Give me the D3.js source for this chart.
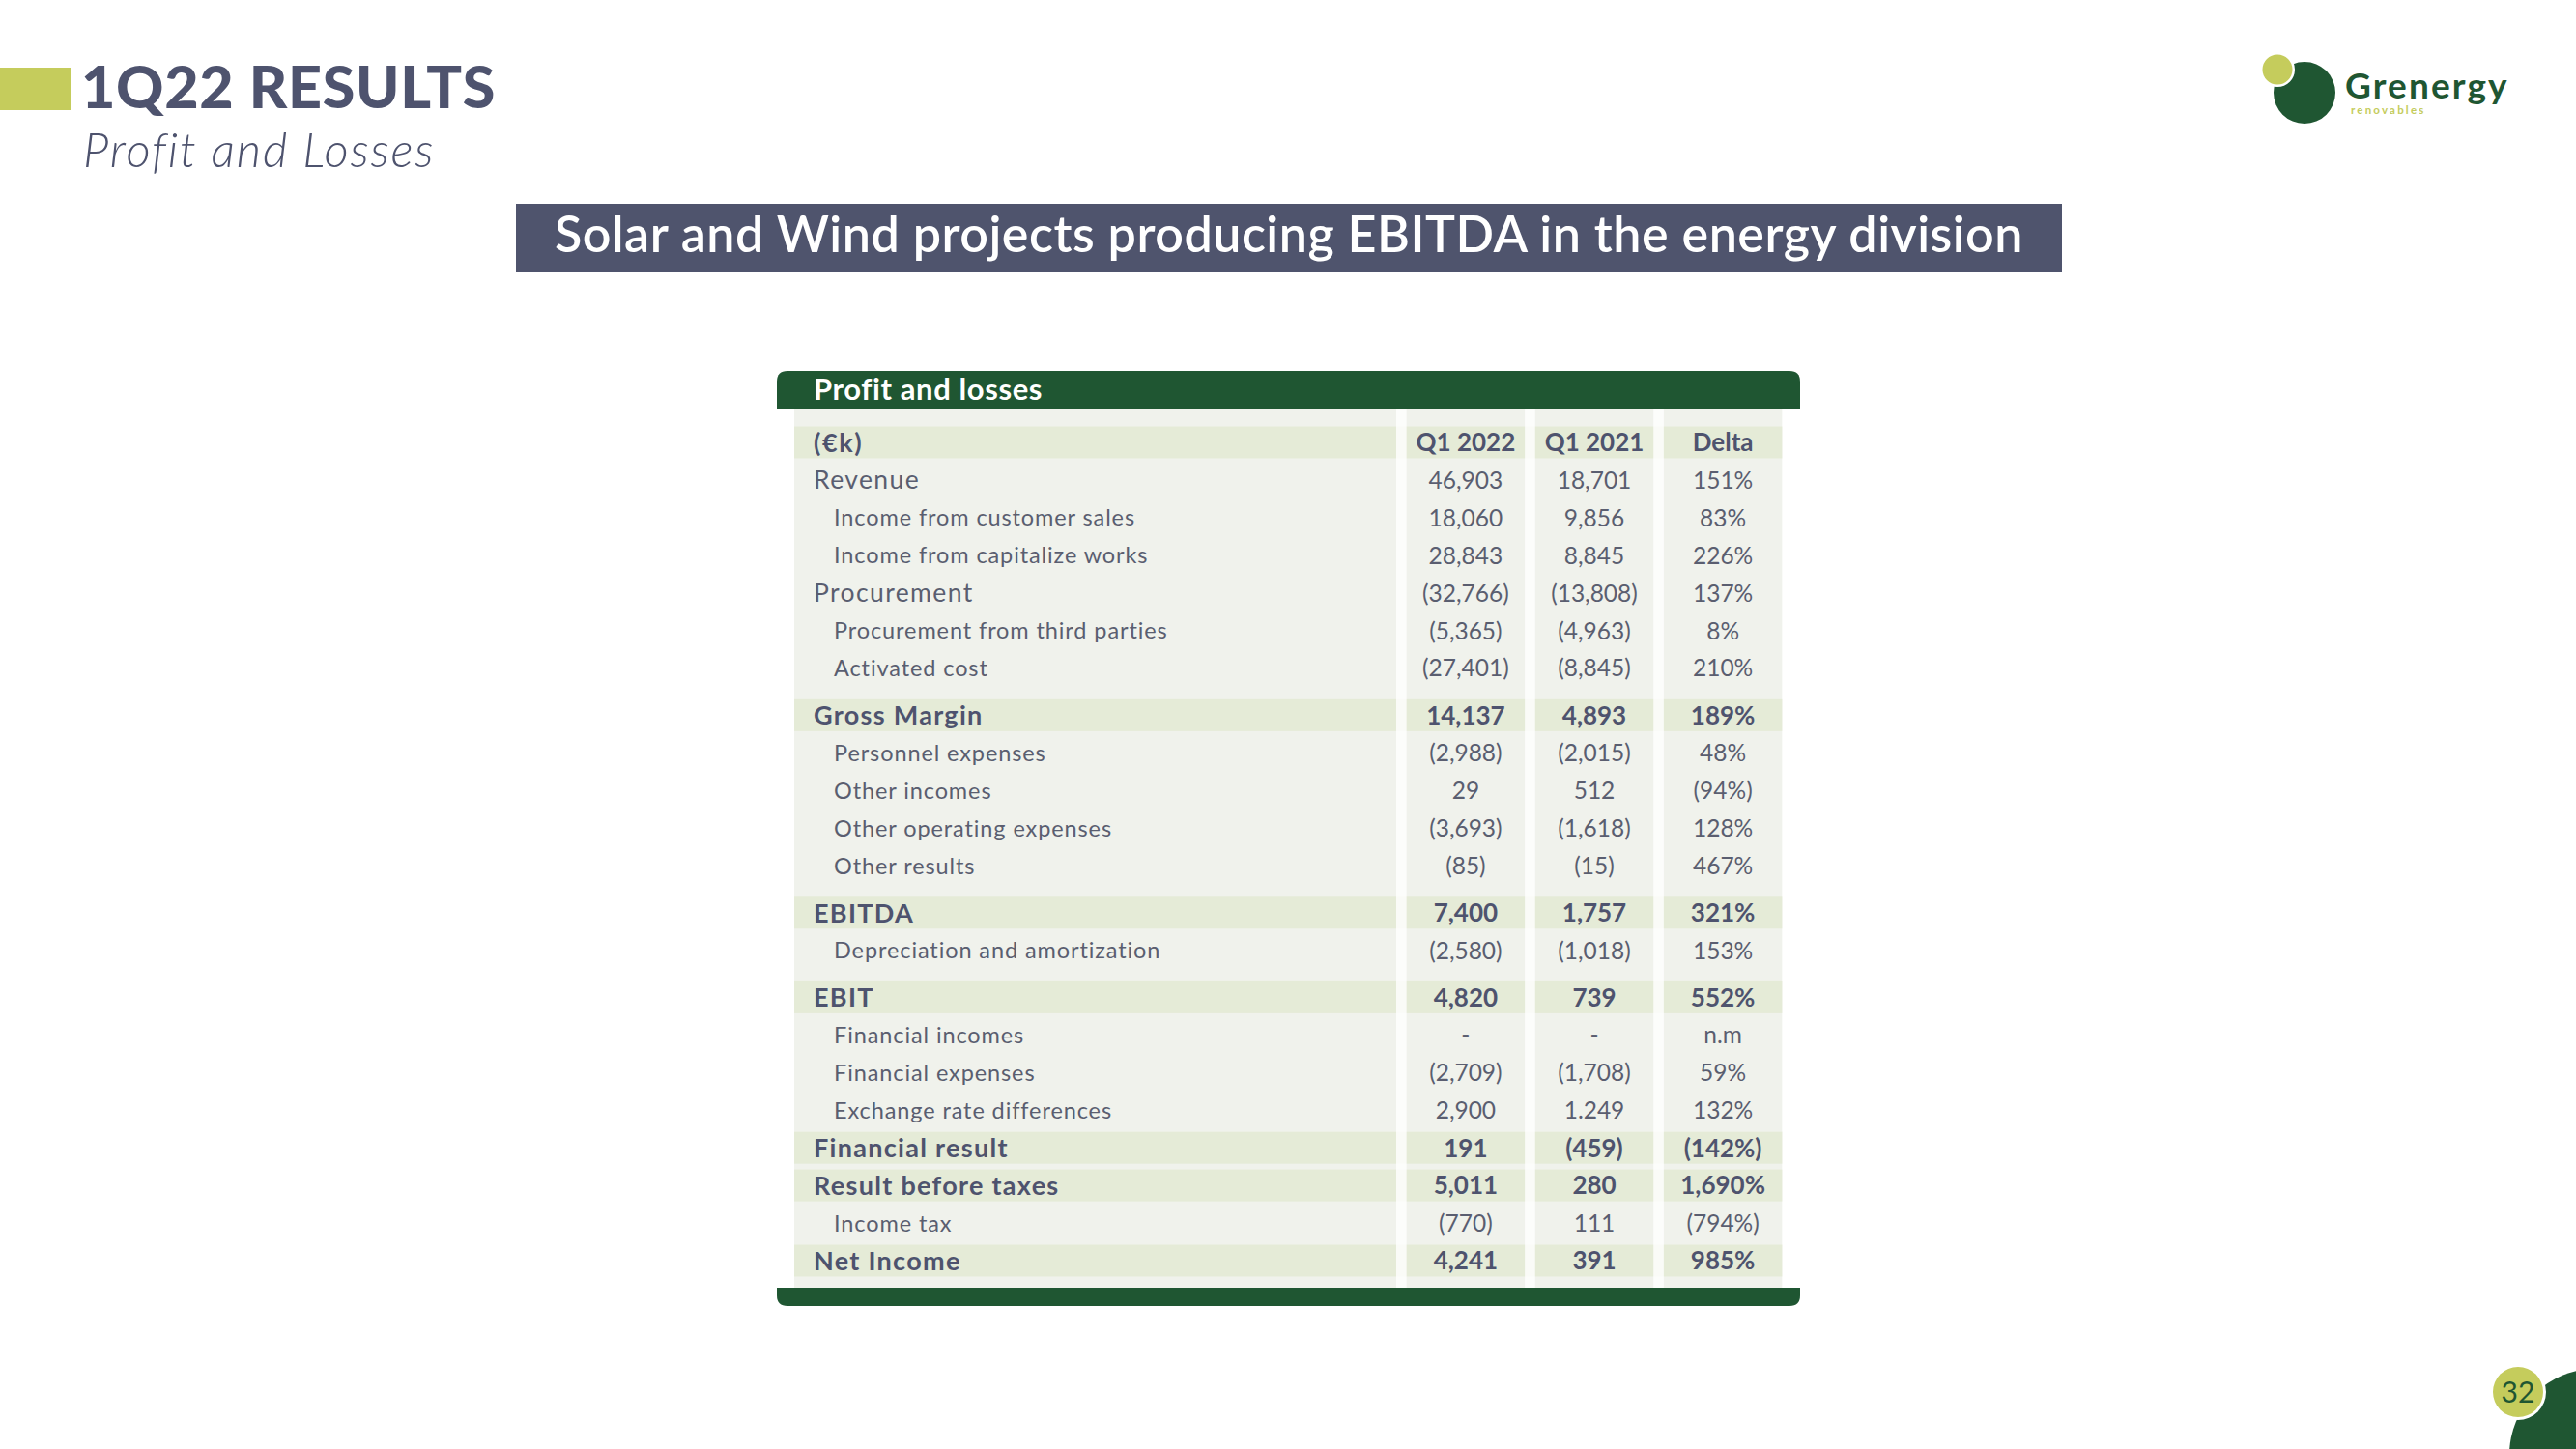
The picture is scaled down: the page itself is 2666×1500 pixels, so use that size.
<!DOCTYPE html>
<html>
<head>
<meta charset="utf-8">
<script src="https://cdn.jsdelivr.net/npm/d3@7"></script>
<style>
  html, body { margin: 0; padding: 0; background: #ffffff; }
  svg { display: block; }
</style>
</head>
<body>
<div id="chart"></div>
<script>
// ---------- DATA ----------
const pageTitle = "1Q22 RESULTS";
const pageSubtitle = "Profit and Losses";
const headline = "Solar and Wind projects producing EBITDA in the energy division";
const tableTitle = "Profit and losses";
const pageNumber = "32";

const columns = ["Q1 2022", "Q1 2021", "Delta"];
const unitLabel = "(€k)";

const rowLabels = [
  "Revenue",
  "Income from customer sales",
  "Income from capitalize works",
  "Procurement",
  "Procurement from third parties",
  "Activated cost",
  "Gross Margin",
  "Personnel expenses",
  "Other incomes",
  "Other operating expenses",
  "Other results",
  "EBITDA",
  "Depreciation and amortization",
  "EBIT",
  "Financial incomes",
  "Financial expenses",
  "Exchange rate differences",
  "Financial result",
  "Result before taxes",
  "Income tax",
  "Net Income"
];
// row kind: main = top-level line, sub = indented detail, total = highlighted bold line
const rowKinds = [
  "main", "sub", "sub", "main", "sub", "sub",
  "total", "sub", "sub", "sub", "sub",
  "total", "sub",
  "total", "sub", "sub", "sub",
  "total", "total", "sub", "total"
];
const sectionBreaks = ["Gross Margin", "EBITDA", "EBIT"];

const q1_2022 = ["46,903", "18,060", "28,843", "(32,766)", "(5,365)", "(27,401)",
  "14,137", "(2,988)", "29", "(3,693)", "(85)",
  "7,400", "(2,580)",
  "4,820", "-", "(2,709)", "2,900",
  "191", "5,011", "(770)", "4,241"];
const q1_2021 = ["18,701", "9,856", "8,845", "(13,808)", "(4,963)", "(8,845)",
  "4,893", "(2,015)", "512", "(1,618)", "(15)",
  "1,757", "(1,018)",
  "739", "-", "(1,708)", "1.249",
  "(459)", "280", "111", "391"];
const deltaPct = ["151%", "83%", "226%", "137%", "8%", "210%",
  "189%", "48%", "(94%)", "128%", "467%",
  "321%", "153%",
  "552%", "n.m", "59%", "132%",
  "(142%)", "1,690%", "(794%)", "985%"];

// ---------- STYLE ----------
const W = 2666, H = 1500;
const C = {
  slate: "#4e536e",
  text: "#5a5e70",
  green: "#1f5632",
  lime: "#c5cc5c",
  bodyBg: "#f0f2ec",
  band: "#e5ebd7",
  bar: "#4f546d"
};
const FONT = "Lato, 'Open Sans', sans-serif";

const svg = d3.select("#chart").append("svg")
  .attr("width", W).attr("height", H)
  .attr("viewBox", `0 0 ${W} ${H}`);
svg.append("rect").attr("width", W).attr("height", H).attr("fill", "#ffffff");

// ---------- PAGE HEADER ----------
svg.append("rect").attr("x", 0).attr("y", 70).attr("width", 73).attr("height", 44).attr("fill", C.lime);
svg.append("text").attr("x", 84).attr("y", 112)
  .attr("font-family", FONT).attr("font-weight", 900).attr("font-size", 61)
  .attr("letter-spacing", 0.7)
  .attr("fill", C.slate).text(pageTitle);
svg.append("text").attr("x", 86).attr("y", 173)
  .attr("font-family", FONT).attr("font-weight", 300).attr("font-style", "italic")
  .attr("font-size", 49).attr("letter-spacing", 1.8).attr("fill", C.slate).text(pageSubtitle);

// logo
const logo = svg.append("g");
logo.append("circle").attr("cx", 2385).attr("cy", 96).attr("r", 32).attr("fill", C.green);
logo.append("circle").attr("cx", 2357).attr("cy", 72).attr("r", 18).attr("fill", "#ffffff");
logo.append("circle").attr("cx", 2357).attr("cy", 72).attr("r", 15.5).attr("fill", C.lime);
logo.append("text").attr("x", 2427).attr("y", 102)
  .attr("font-family", FONT).attr("font-weight", 700).attr("font-size", 37)
  .attr("letter-spacing", 2.1).attr("fill", C.green).text("Grenergy");
logo.append("text").attr("x", 2433).attr("y", 118)
  .attr("font-family", FONT).attr("font-weight", 700).attr("font-size", 11.5)
  .attr("letter-spacing", 2.2).attr("fill", C.lime).text("renovables");

// headline bar
svg.append("rect").attr("x", 534).attr("y", 211).attr("width", 1600).attr("height", 71).attr("fill", C.bar);
svg.append("text").attr("x", 1334).attr("y", 261).attr("text-anchor", "middle")
  .attr("font-family", FONT).attr("font-weight", 600).attr("font-size", 52)
  .attr("letter-spacing", 0.5)
  .attr("fill", "#ffffff").text(headline);

// ---------- TABLE ----------
const rows = rowLabels.map((label, i) => ({
  label, kind: rowKinds[i], vals: [q1_2022[i], q1_2021[i], deltaPct[i]],
  brk: sectionBreaks.includes(label)
}));
let slot = 0;
const allRows = [{ label: unitLabel, kind: "head", vals: columns, slot: 0 }];
rows.forEach(r => { slot += 1 + (r.brk ? 0.25 : 0); r.slot = slot; allRows.push(r); });

const y = d3.scaleLinear().domain([0, slot]).range([458, 1305]);
const xCols = d3.scaleBand().domain(columns).range([1445, 1855]).paddingInner(0.08).paddingOuter(0.08);
const tableLeft = 804, tableRight = 1863;
const bodyLeft = 822, bodyRight = xCols(columns[2]) + xCols.bandwidth();
const headTop = 384, headBottom = 423, bodyBottom = 1333, footBottom = 1352;
const rad = 11;

const table = svg.append("g");
// title band with rounded top corners
table.append("path")
  .attr("d", `M${tableLeft},${headBottom} V${headTop + rad} Q${tableLeft},${headTop} ${tableLeft + rad},${headTop}
    H${tableRight - rad} Q${tableRight},${headTop} ${tableRight},${headTop + rad} V${headBottom} Z`)
  .attr("fill", C.green);
table.append("text").attr("x", 842).attr("y", 414)
  .attr("font-family", FONT).attr("font-weight", 700).attr("font-size", 31)
  .attr("letter-spacing", 0.6)
  .attr("fill", "#ffffff").text(tableTitle);

// body background
table.append("rect").attr("x", bodyLeft).attr("y", headBottom)
  .attr("width", bodyRight - bodyLeft).attr("height", bodyBottom - headBottom)
  .attr("fill", C.bodyBg);

// highlight bands
const bandH = 33;
table.selectAll("rect.band").data(allRows.filter(r => r.kind === "head" || r.kind === "total"))
  .join("rect").attr("class", "band")
  .attr("x", bodyLeft).attr("width", bodyRight - bodyLeft)
  .attr("y", d => y(d.slot) - bandH / 2).attr("height", bandH)
  .attr("fill", C.band);

// white column separators
const sepEdges = [[1445, xCols(columns[0])]];
for (let i = 0; i < columns.length - 1; i++) {
  sepEdges.push([xCols(columns[i]) + xCols.bandwidth(), xCols(columns[i + 1])]);
}
table.selectAll("rect.sep").data(sepEdges).join("rect").attr("class", "sep")
  .attr("x", d => d[0]).attr("width", d => d[1] - d[0])
  .attr("y", headBottom).attr("height", bodyBottom - headBottom)
  .attr("fill", "#ffffff").attr("opacity", 0.8);

// bottom bar with rounded bottom corners
table.append("path")
  .attr("d", `M${tableLeft},${bodyBottom} H${tableRight} V${footBottom - rad} Q${tableRight},${footBottom} ${tableRight - rad},${footBottom}
    H${tableLeft + rad} Q${tableLeft},${footBottom} ${tableLeft},${footBottom - rad} Z`)
  .attr("fill", C.green);

// row labels
const labelStyle = {
  head: { x: 842, size: 27, ls: 1.6, weight: 700, fill: C.slate },
  main: { x: 842, size: 26.5, ls: 1.4, weight: 400, fill: C.text },
  sub: { x: 863, size: 23.5, ls: 0.9, weight: 400, fill: C.text },
  total: { x: 842, size: 27, ls: 1.3, weight: 700, fill: C.slate }
};
const valueStyle = {
  head: { size: 26, weight: 700, fill: C.slate },
  main: { size: 24.5, weight: 400, fill: C.text },
  sub: { size: 24.5, weight: 400, fill: C.text },
  total: { size: 26, weight: 700, fill: C.slate }
};

const rowG = table.selectAll("g.row").data(allRows).join("g").attr("class", "row")
  .attr("transform", d => `translate(0,${y(d.slot)})`);
rowG.append("text")
  .attr("x", d => labelStyle[d.kind].x).attr("dy", "0.36em")
  .attr("font-family", FONT)
  .attr("font-size", d => labelStyle[d.kind].size)
  .attr("letter-spacing", d => labelStyle[d.kind].ls)
  .attr("font-weight", d => labelStyle[d.kind].weight)
  .attr("fill", d => labelStyle[d.kind].fill)
  .text(d => d.label);
rowG.selectAll("text.val").data(d => d.vals.map((v, j) => ({ v, col: columns[j], kind: d.kind })))
  .join("text").attr("class", "val")
  .attr("x", d => xCols(d.col) + xCols.bandwidth() / 2).attr("dy", "0.36em")
  .attr("text-anchor", "middle")
  .attr("font-family", FONT)
  .attr("font-size", d => valueStyle[d.kind].size)
  .attr("font-weight", d => valueStyle[d.kind].weight)
  .attr("fill", d => valueStyle[d.kind].fill)
  .text(d => d.v);

// ---------- PAGE NUMBER ----------
svg.append("circle").attr("cx", 2686).attr("cy", 1506).attr("r", 89).attr("fill", C.green);
svg.append("circle").attr("cx", 2606).attr("cy", 1441).attr("r", 29).attr("fill", "#ffffff");
svg.append("circle").attr("cx", 2606).attr("cy", 1441).attr("r", 26).attr("fill", C.lime);
svg.append("text").attr("x", 2606).attr("y", 1441).attr("dy", "0.36em").attr("text-anchor", "middle")
  .attr("font-family", FONT).attr("font-size", 30).attr("fill", C.green).text(pageNumber);
</script>
</body>
</html>
